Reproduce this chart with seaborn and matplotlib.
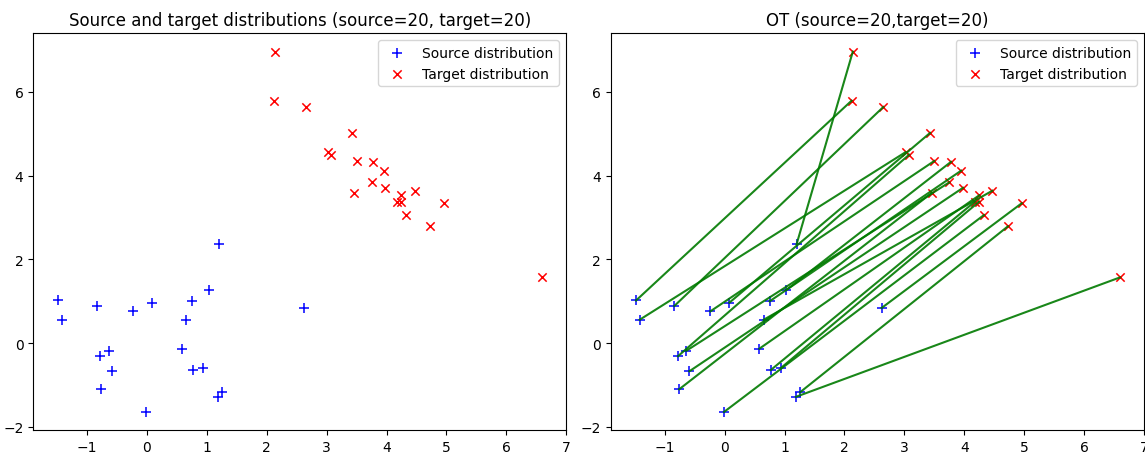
import numpy as np
import pandas as pd
import matplotlib
matplotlib.use('Agg')
import matplotlib.pyplot as plt
import seaborn as sns

# source samples
src_x = [-1.48, -1.42, -0.84, -0.24, 0.08, 0.75, 1.03, 0.65, 2.62, -0.78,
         -0.64, -0.59, -0.76, -0.01, 0.58, 0.77, 0.94, 1.19, 1.26, 1.20]
src_y = [1.02, 0.56, 0.89, 0.76, 0.97, 1.00, 1.27, 0.56, 0.84, -0.31,
         -0.18, -0.67, -1.10, -1.64, -0.13, -0.64, -0.59, -1.28, -1.17, 2.36]

# target samples
tgt_x = [2.14, 2.12, 2.65, 3.43, 3.02, 3.08, 3.50, 3.78, 3.95, 3.75,
         3.98, 3.46, 4.47, 4.25, 4.18, 4.25, 4.96, 4.33, 4.73, 6.60]
tgt_y = [6.96, 5.79, 5.64, 5.02, 4.56, 4.50, 4.35, 4.33, 4.12, 3.84,
         3.71, 3.59, 3.64, 3.53, 3.38, 3.38, 3.34, 3.06, 2.79, 1.57]


def assignment(C):
    # plain hungarian algorithm, exact OT plan for uniform weights
    n = C.shape[0]
    u = np.zeros(n + 1)
    v = np.zeros(n + 1)
    p = np.zeros(n + 1, dtype=int)
    way = np.zeros(n + 1, dtype=int)
    for i in range(1, n + 1):
        p[0] = i
        j0 = 0
        minv = np.full(n + 1, np.inf)
        used = np.zeros(n + 1, dtype=bool)
        while True:
            used[j0] = True
            i0 = p[j0]
            delta = np.inf
            j1 = 0
            for j in range(1, n + 1):
                if not used[j]:
                    cur = C[i0 - 1, j - 1] - u[i0] - v[j]
                    if cur < minv[j]:
                        minv[j] = cur
                        way[j] = j0
                    if minv[j] < delta:
                        delta = minv[j]
                        j1 = j
            for j in range(n + 1):
                if used[j]:
                    u[p[j]] += delta
                    v[j] -= delta
                else:
                    minv[j] -= delta
            j0 = j1
            if p[j0] == 0:
                break
        while True:
            j1 = way[j0]
            p[j0] = p[j1]
            j0 = j1
            if j0 == 0:
                break
    match = np.zeros(n, dtype=int)
    for j in range(1, n + 1):
        match[p[j] - 1] = j - 1
    return match


xs = np.column_stack([src_x, src_y])
xt = np.column_stack([tgt_x, tgt_y])
M = ((xs[:, None, :] - xt[None, :, :]) ** 2).sum(-1)
plan = assignment(M)

rows = []
for i, j in enumerate(plan):
    rows.append({'pair': i, 'x': src_x[i], 'y': src_y[i]})
    rows.append({'pair': i, 'x': tgt_x[j], 'y': tgt_y[j]})
segments = pd.DataFrame(rows)

n_s, n_t = len(src_x), len(tgt_x)

fig, axes = plt.subplots(1, 2, figsize=(11.45, 4.56), dpi=100)
plt.subplots_adjust(left=0.029, right=0.999, bottom=0.055, top=0.925, wspace=0.084)

# 1. the two samples
ax = axes[0]
sns.scatterplot(x=src_x, y=src_y, marker='+', color='blue', s=45, linewidth=1.1,
                label='Source distribution', ax=ax)
sns.scatterplot(x=tgt_x, y=tgt_y, marker='x', color='red', s=36, linewidth=1.1,
                label='Target distribution', ax=ax)
ax.legend(loc='upper right')
ax.set_title('Source and target distributions (source=%d, target=%d)' % (n_s, n_t))

# 2. OT matching
ax = axes[1]
sns.lineplot(data=segments, x='x', y='y', units='pair', estimator=None, sort=False,
             color='#007a00', alpha=0.9, linewidth=1.5, ax=ax)
sns.scatterplot(x=src_x, y=src_y, marker='+', color='blue', s=45, linewidth=1.1,
                label='Source distribution', ax=ax)
sns.scatterplot(x=tgt_x, y=tgt_y, marker='x', color='red', s=36, linewidth=1.1,
                label='Target distribution', ax=ax)
ax.legend(loc='upper right')
ax.set_xlabel('')
ax.set_ylabel('')
ax.set_title('OT (source=%d,target=%d)' % (n_s, n_t))

for ax in axes:
    ax.set_xlim(-1.9, 7.0)
    ax.set_ylim(-2.07, 7.4)

plt.savefig('out.png')
